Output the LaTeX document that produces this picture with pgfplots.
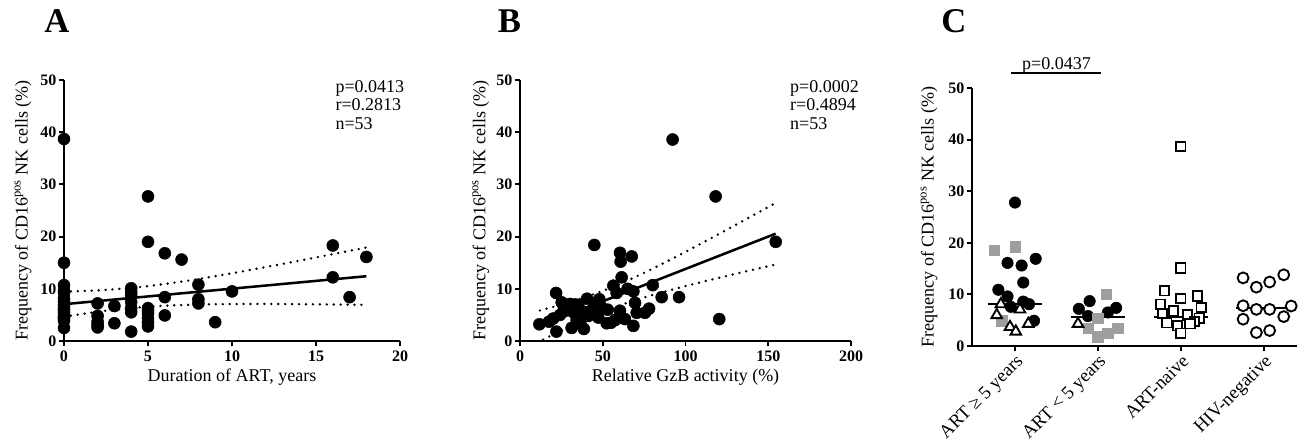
\documentclass[border=0pt]{standalone}
\usepackage{pgfplots}
\pgfplotsset{compat=1.18}
\usepackage{fontspec}
\setmainfont{Liberation Serif}
\definecolor{mygray}{gray}{0.62}
\begin{document}
\begin{tikzpicture}
\useasboundingbox (0pt,0pt) rectangle (977.25pt,333pt);
\pgfplotsset{
  myax/.style={
    scale only axis, axis lines=left, axis line style={line width=1.6pt,-},
    tick align=outside, major tick length=4pt, tick style={line width=1.4pt, black},
    enlargelimits=false, clip=false, anchor=south west,
    ymin=0, ymax=50, ytick={0,10,...,50},
    /pgf/number format/assume math mode=true,
    ticklabel style={font=\fontsize{12}{14}\selectfont\bfseries},
    yticklabel style={inner xsep=1.5pt},
    label style={font=\fontsize{13.5}{16}\selectfont},
    ylabel={Frequency of CD16\textsuperscript{pos} NK cells (\%)},
  },
  dots/.style={mark=*, only marks, mark size=4.5pt, black},
  reg/.style={no marks, black, line width=1.9pt},
  band/.style={no marks, black, line width=2pt, line cap=round, dash pattern=on 0pt off 5.2pt, smooth},
}
% ---------- A ----------
\begin{axis}[myax, at={(48pt,77.25pt)}, width=252pt, height=195.75pt,
  xmin=0, xmax=20, xtick={0,5,...,20},
  xlabel={Duration of ART, years},
  xlabel style={at={(axis description cs:0.5,-0.138)}, anchor=center},
  ylabel style={at={(axis description cs:-0.122,0.5)}, anchor=center}]
\addplot[dots] coordinates {
(0,38.7)(0,15.0)(0,10.7)(0,9.7)(0,9.2)(0,8.1)(0,7.5)(0,6.8)(0,6.2)(0,5.9)(0,5.4)(0,4.8)(0,4.5)(0,4.3)(0,3.9)(0,2.5)
(2,7.2)(2,4.8)(2,3.7)(2,3.1)(2,2.6)
(3,6.7)(3,3.4)
(4,10.1)(4,9.4)(4,8.8)(4,7.5)(4,6.3)(4,5.5)(4,1.8)
(5,27.7)(5,19.0)(5,6.3)(5,5.8)(5,5.3)(5,4.4)(5,3.5)(5,2.8)
(6,16.8)(6,8.4)(6,4.9)
(7,15.6)
(8,10.8)(8,8.0)(8,7.2)
(9,3.6)(10,9.5)(16,18.3)(16,12.2)(17,8.4)(18,16.1)};
\addplot[reg] coordinates {(0,7.05)(18,12.41)};
\addplot[band] coordinates {(0,9.45)(2,9.70)(4,10.17)(6,10.92)(8,11.87)(10,12.98)(12,14.16)(14,15.38)(16,16.64)(18,17.91)};
\addplot[band] coordinates {(0,4.65)(2,5.60)(4,6.31)(6,6.76)(8,6.99)(10,7.08)(12,7.10)(14,7.06)(16,7.00)(18,6.91)};
\node[anchor=base west, inner sep=0pt, font=\fontsize{13.5}{16}\selectfont] at (axis cs:16.15,47.7) {p=0.0413};
\node[anchor=base west, inner sep=0pt, font=\fontsize{13.5}{16}\selectfont] at (axis cs:16.15,44.2) {r=0.2813};
\node[anchor=base west, inner sep=0pt, font=\fontsize{13.5}{16}\selectfont] at (axis cs:16.15,40.6) {n=53};
\end{axis}
% ---------- B ----------
\begin{axis}[myax, at={(390pt,77.25pt)}, width=248.25pt, height=195.75pt,
  xmin=0, xmax=200, xtick={0,50,...,200},
  xlabel={Relative GzB activity (\%)},
  xlabel style={at={(axis description cs:0.5,-0.138)}, anchor=center},
  ylabel style={at={(axis description cs:-0.118,0.5)}, anchor=center}]
\addplot[dots] coordinates {
(11.7,3.2)(17.5,3.7)(20.1,4.3)(21.8,9.2)(22.0,1.8)(24.2,5.0)(25.2,7.4)(26.5,6.5)(28.2,5.9)(30.2,7.1)
(31.2,2.5)(32.2,5.5)(33.5,7.0)(34.2,4.0)(35.2,6.9)(36.5,3.3)(38.3,5.6)(38.6,2.3)(40.5,8.1)(41.3,4.8)
(43.3,5.9)(44.9,18.4)(45.5,7.3)(47.3,4.5)(47.9,8.0)(48.9,6.6)(52.4,3.4)(53.0,6.0)(55.0,3.5)(56.4,10.6)
(57.4,4.0)(58.4,9.2)(59.4,4.4)(60.4,16.9)(60.8,15.2)(61.4,12.2)(60.4,5.8)(63.4,4.2)(65.0,10.0)(67.5,16.2)
(68.5,9.5)(68.5,2.9)(69.5,7.3)(70.5,5.4)(75.5,5.4)(78.0,6.2)(80.2,10.7)(85.6,8.4)(92.2,38.6)(96.1,8.4)
(118.2,27.7)(120.4,4.2)(154.5,19.0)};
\addplot[reg] coordinates {(12,2.89)(154.5,20.56)};
\addplot[band] coordinates {(12,5.84)(20,6.53)(30,7.45)(40,8.46)(52,9.85)(65,11.58)(80,13.83)(100,17.08)(125,21.33)(154.5,26.46)};
\addplot[band] coordinates {(14,0.27)(20,1.23)(30,2.79)(40,4.26)(52,5.85)(65,7.34)(80,8.81)(100,10.52)(125,12.47)(154.5,14.66)};
\node[anchor=base west, inner sep=0pt, font=\fontsize{13.5}{16}\selectfont] at (axis cs:163.1,47.7) {p=0.0002};
\node[anchor=base west, inner sep=0pt, font=\fontsize{13.5}{16}\selectfont] at (axis cs:163.1,44.2) {r=0.4894};
\node[anchor=base west, inner sep=0pt, font=\fontsize{13.5}{16}\selectfont] at (axis cs:163.1,40.6) {n=53};
\end{axis}
% ---------- C ----------
\begin{axis}[myax, at={(729pt,73.5pt)}, width=243.75pt, height=193.5pt,
  xmin=-0.518, xmax=3.40, xtick={0,1,2,3},
  xticklabels={ART ≥ 5 years, ART < 5 years, ART-naive, HIV-negative},
  xticklabel style={rotate=45, anchor=north east, inner sep=1pt, font=\fontsize{14}{16}\selectfont},
  ylabel style={at={(axis description cs:-0.132,0.5)}, anchor=center}]
% medians
\addplot[no marks, black, line width=1.6pt] coordinates {(-0.33,8.1)(0.33,8.1)};
\addplot[no marks, black, line width=1.6pt] coordinates {(0.67,5.55)(1.33,5.55)};
\addplot[no marks, black, line width=1.6pt] coordinates {(1.67,5.7)(2.33,5.7)};
\addplot[no marks, black, line width=1.6pt] coordinates {(2.67,7.4)(3.33,7.4)};
% black circles
\addplot[only marks, mark=*, mark size=4.3pt, black] coordinates {
(0,27.8)(-0.09,16.1)(0.08,15.6)(0.25,16.9)(0.10,12.3)(-0.2,10.9)(-0.09,9.6)(-0.05,7.6)(0.10,8.6)(0.17,8.1)(0.23,4.9)
(0.77,7.2)(0.9,8.7)(0.88,5.8)(1.12,6.5)(1.22,7.4)};
% gray squares
\addplot[only marks, mark=square*, mark size=3.9pt, mygray, mark options={draw=mygray, fill=mygray}] coordinates {
(-0.25,18.5)(0,19.2)(-0.16,4.9)
(1.1,10.0)(1.0,5.4)(0.88,3.4)(1.0,1.8)(1.12,2.5)(1.24,3.4)};
% open triangles
\addplot[only marks, mark=triangle*, mark size=4.6pt, mark options={draw=black, fill=white, line width=1.4pt}] coordinates {
(-0.17,8.1)(0.06,7.1)(-0.22,6.0)(-0.06,3.7)(0.01,2.8)(0.16,4.3)(0.76,4.3)};
% open squares
\addplot[only marks, mark=square*, mark size=3.5pt, mark options={draw=black, fill=white, line width=1.4pt}] coordinates {
(2,38.7)(2,15.1)(1.80,10.7)(2.20,9.7)(2.0,9.2)(1.755,8.1)(2.245,7.5)(1.78,6.3)(1.91,6.8)(2.08,6.0)(2.22,5.4)(2.16,4.8)(1.83,4.5)(2.11,4.3)(1.96,3.9)(2.0,2.5)};
% open circles
\addplot[only marks, mark=*, mark size=4.1pt, mark options={draw=black, fill=white, line width=1.4pt}] coordinates {
(2.75,13.2)(2.91,11.4)(3.07,12.4)(3.24,13.8)(2.75,7.8)(2.91,7.1)(3.07,7.1)(3.33,7.75)(2.75,5.2)(3.24,5.7)(2.91,2.6)(3.07,3.0)};
% significance bar
\draw[line width=1.5pt] (axis cs:-0.05,52.85) -- (axis cs:1.04,52.85);
\node[anchor=base, inner sep=0pt, font=\fontsize{13.5}{16}\selectfont] at (axis cs:0.5,53.6) {p=0.0437};
\end{axis}
% panel letters
\node[font=\fontsize{26}{30}\selectfont\bfseries] at (42.75pt,316.9pt) {A};
\node[font=\fontsize{26}{30}\selectfont\bfseries] at (382.1pt,316.9pt) {B};
\node[font=\fontsize{26}{30}\selectfont\bfseries] at (715.5pt,316.9pt) {C};
\end{tikzpicture}
\end{document}
